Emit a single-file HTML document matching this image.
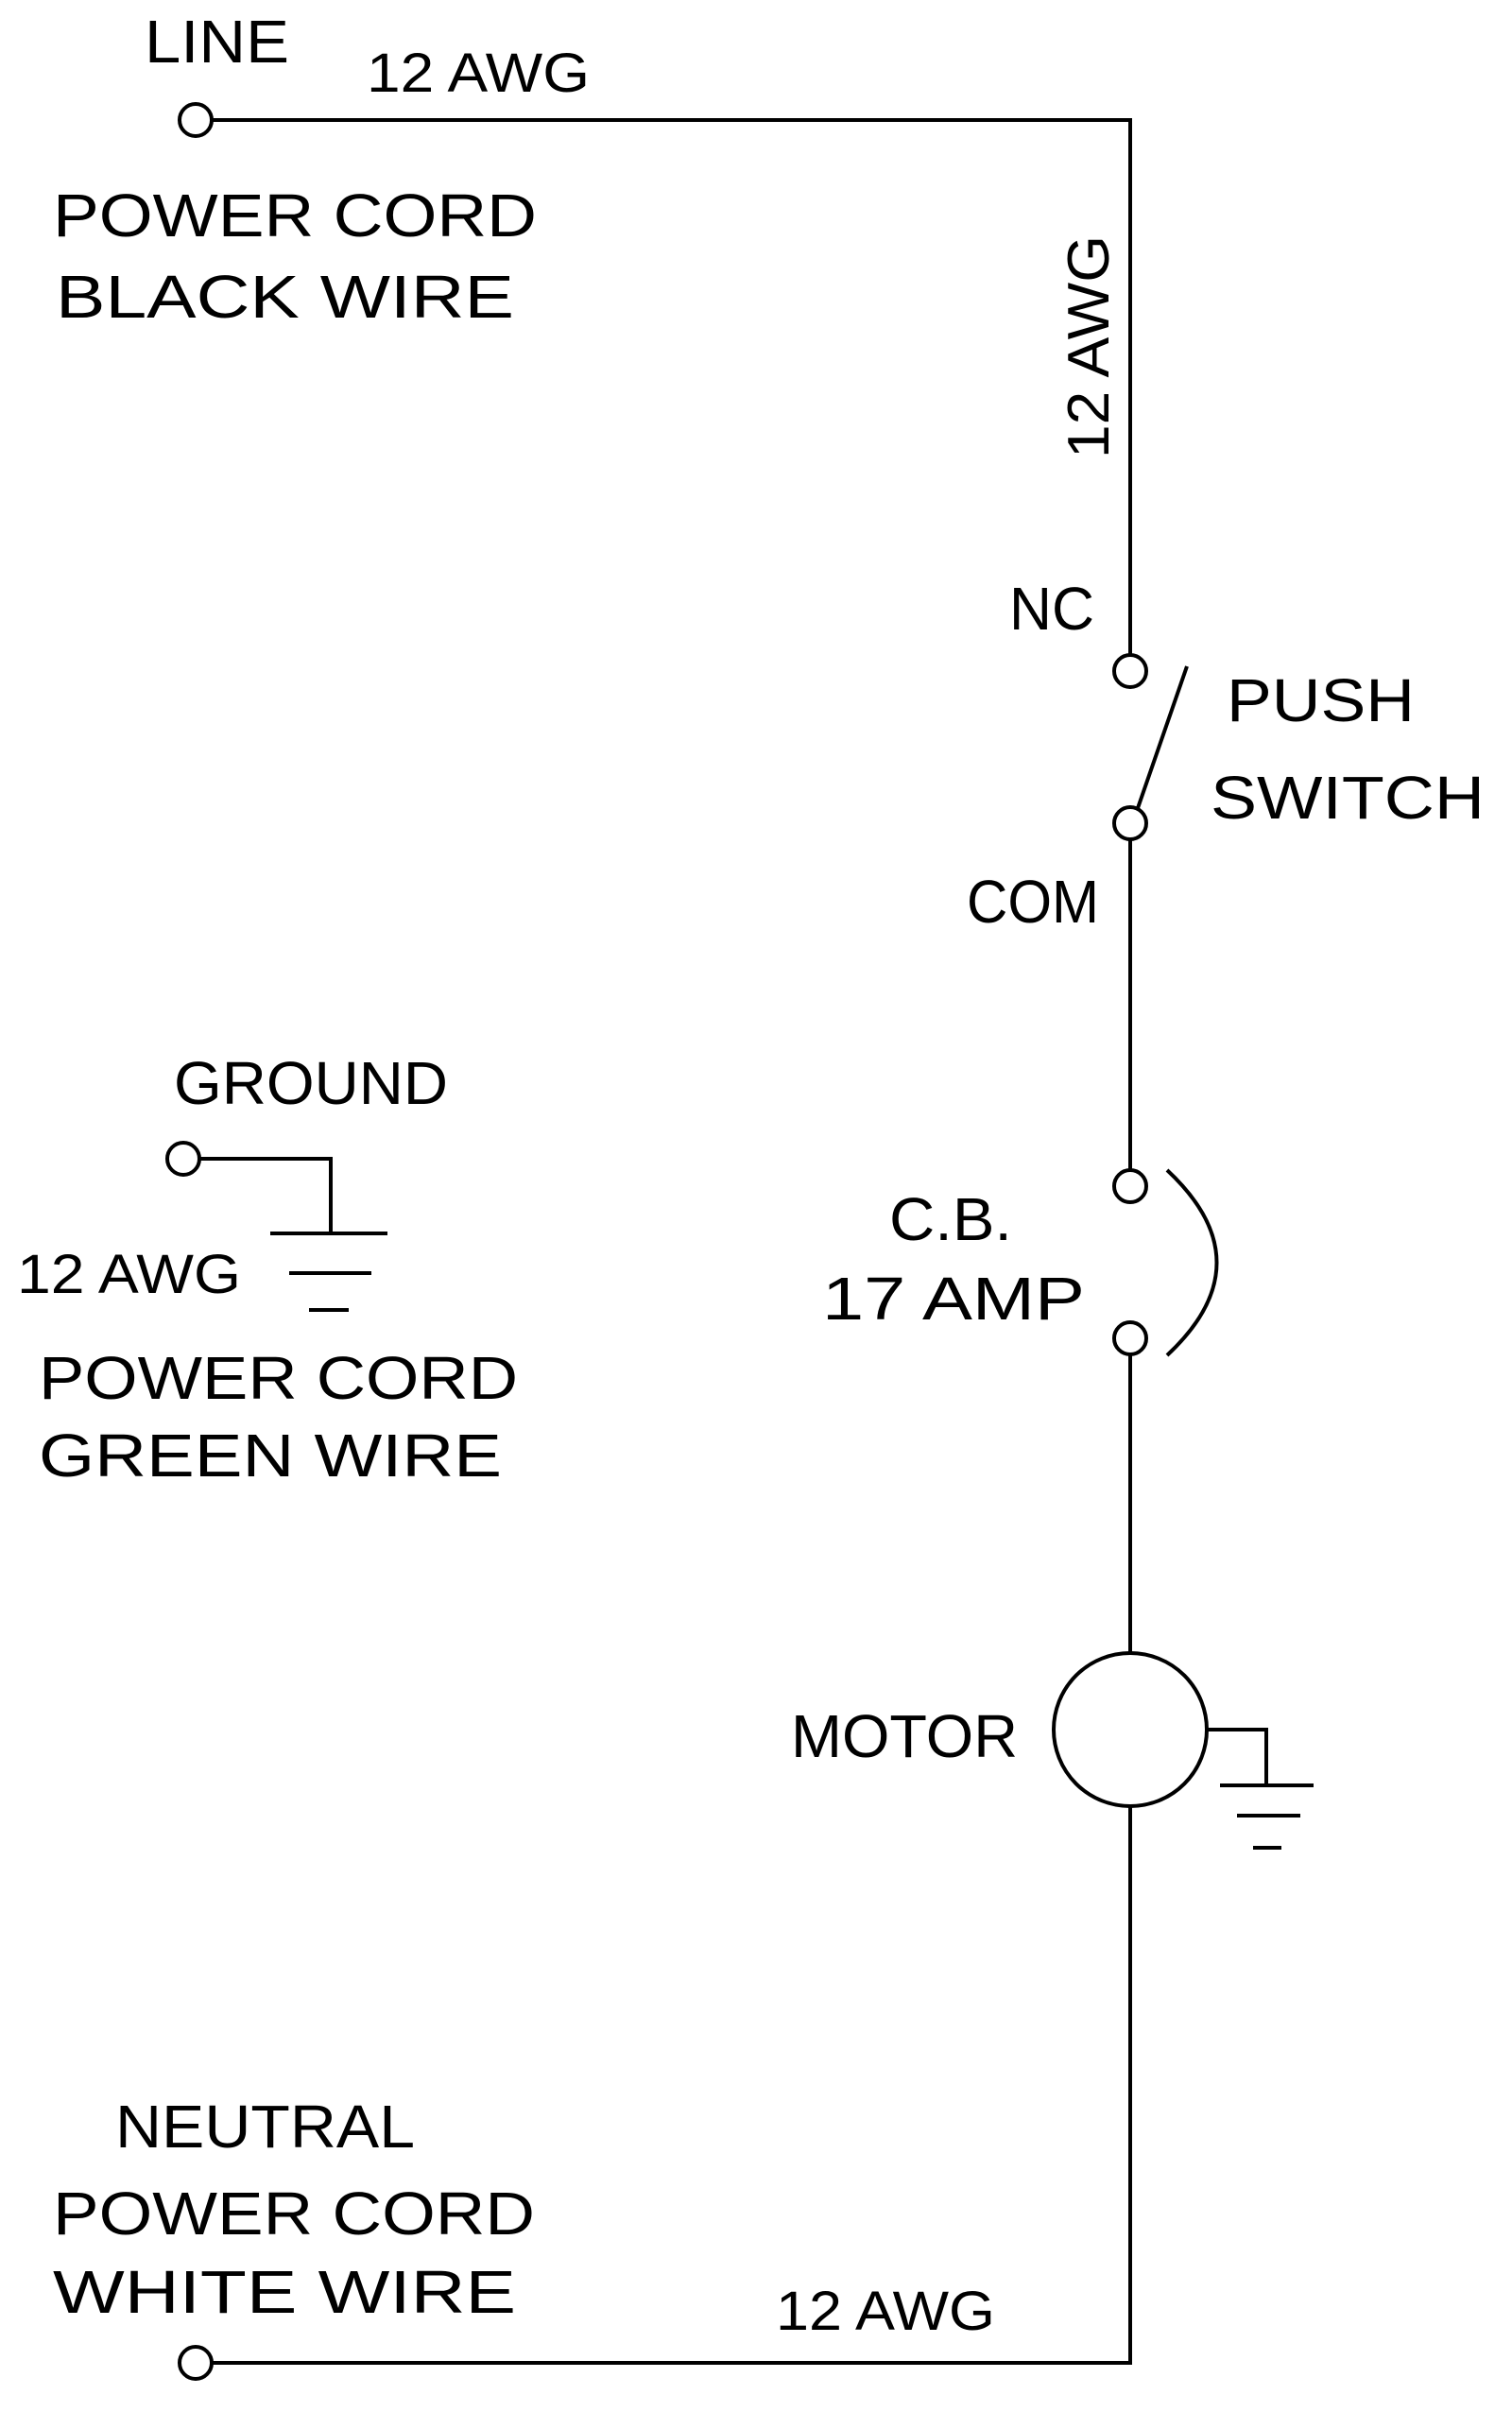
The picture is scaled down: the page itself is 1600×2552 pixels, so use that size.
<!DOCTYPE html>
<html><head><meta charset="utf-8"><style>html,body{margin:0;padding:0;background:#fff}svg{display:block}</style></head><body>
<svg width="1600" height="2552" viewBox="0 0 1600 2552" xmlns="http://www.w3.org/2000/svg">
<g fill="none" stroke="#000" stroke-width="4">
<polyline points="224,127 1196,127 1196,693"/>
<circle cx="207" cy="127" r="17"/>
<circle cx="1196" cy="710" r="17"/>
<line x1="1204" y1="855" x2="1256" y2="705"/>
<circle cx="1196" cy="871" r="17"/>
<line x1="1196" y1="888" x2="1196" y2="1238"/>
<circle cx="1196" cy="1255" r="17"/>
<circle cx="1196" cy="1416" r="17"/>
<path d="M1235,1238 Q1340,1336 1235,1434"/>
<line x1="1196" y1="1433" x2="1196" y2="1750"/>
<circle cx="1196" cy="1830" r="81"/>
<polyline points="1277,1830 1340,1830 1340,1889"/>
<line x1="1291" y1="1889" x2="1390" y2="1889"/>
<line x1="1309" y1="1921" x2="1376" y2="1921"/>
<line x1="1326" y1="1955" x2="1356" y2="1955"/>
<polyline points="1196,1911 1196,2500 224,2500"/>
<circle cx="207" cy="2500" r="17"/>
<circle cx="194" cy="1226" r="17"/>
<polyline points="211,1226 350,1226 350,1305"/>
<line x1="286" y1="1305" x2="410" y2="1305"/>
<line x1="306" y1="1347" x2="393" y2="1347"/>
<line x1="327" y1="1386" x2="369" y2="1386"/>
</g>
<g font-family="Liberation Sans, sans-serif" font-size="64" fill="#000" lengthAdjust="spacingAndGlyphs">
<text x="153" y="66" textLength="153" lengthAdjust="spacingAndGlyphs">LINE</text>
<text x="388" y="97" font-size="58" textLength="236" lengthAdjust="spacingAndGlyphs">12 AWG</text>
<text x="56" y="250" textLength="512" lengthAdjust="spacingAndGlyphs">POWER CORD</text>
<text x="59" y="336" textLength="485" lengthAdjust="spacingAndGlyphs">BLACK WIRE</text>
<text transform="translate(1173,485) rotate(-90)" x="0" y="0" font-size="62" textLength="236" lengthAdjust="spacingAndGlyphs">12 AWG</text>
<text x="1068" y="666" textLength="90" lengthAdjust="spacingAndGlyphs">NC</text>
<text x="1298" y="763" textLength="199" lengthAdjust="spacingAndGlyphs">PUSH</text>
<text x="1281" y="866" textLength="290" lengthAdjust="spacingAndGlyphs">SWITCH</text>
<text x="1023" y="976" textLength="140" lengthAdjust="spacingAndGlyphs">COM</text>
<text x="184" y="1168" textLength="290" lengthAdjust="spacingAndGlyphs">GROUND</text>
<text x="18" y="1368" font-size="58" textLength="237" lengthAdjust="spacingAndGlyphs">12 AWG</text>
<text x="41" y="1480" textLength="507" lengthAdjust="spacingAndGlyphs">POWER CORD</text>
<text x="41" y="1562" textLength="490" lengthAdjust="spacingAndGlyphs">GREEN WIRE</text>
<text x="941" y="1312" textLength="130" lengthAdjust="spacingAndGlyphs">C.B.</text>
<text x="870" y="1396" textLength="278" lengthAdjust="spacingAndGlyphs">17 AMP</text>
<text x="837" y="1859" textLength="240" lengthAdjust="spacingAndGlyphs">MOTOR</text>
<text x="122" y="2272" textLength="317" lengthAdjust="spacingAndGlyphs">NEUTRAL</text>
<text x="56" y="2364" textLength="510" lengthAdjust="spacingAndGlyphs">POWER CORD</text>
<text x="56" y="2447" textLength="490" lengthAdjust="spacingAndGlyphs">WHITE WIRE</text>
<text x="821" y="2465" font-size="58" textLength="232" lengthAdjust="spacingAndGlyphs">12 AWG</text>
</g>
</svg>
</body></html>
